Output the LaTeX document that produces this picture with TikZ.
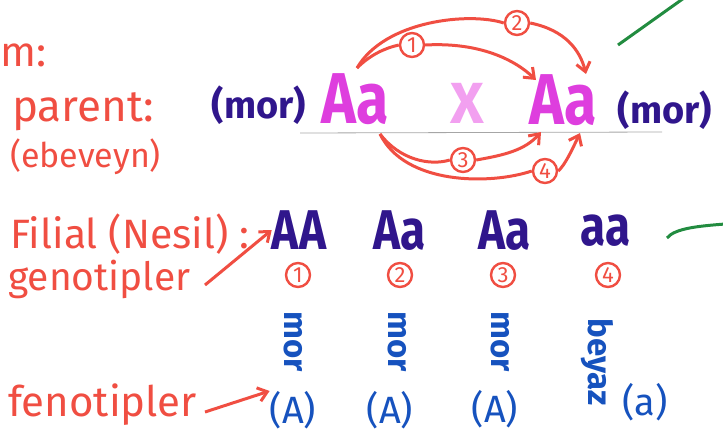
\documentclass[tikz,border=0pt]{standalone}
\usepackage{fontspec}
\setmainfont{Fira Sans}
\usetikzlibrary{arrows.meta}
\definecolor{hred}{RGB}{240,78,66}
\definecolor{dblue}{RGB}{48,22,140}
\definecolor{mblue}{RGB}{22,82,190}
\definecolor{mag}{RGB}{222,62,222}
\definecolor{lpink}{RGB}{242,160,240}
\definecolor{hgreen}{RGB}{34,140,64}
\newcommand{\narrowtxt}[1]{\scalebox{0.82}[1]{#1}}
\tikzset{
  redlab/.style={text=hred, inner sep=0pt, font=\fontsize{42}{42}\selectfont},
  parentgene/.style={text=mag, inner sep=0pt, font=\bfseries\fontsize{72}{72}\selectfont},
  morlab/.style={text=dblue, inner sep=0pt, font=\bfseries\fontsize{38}{38}\selectfont},
  filgene/.style={text=dblue, inner sep=0pt, text depth=0pt, font=\bfseries\fontsize{56}{56}\selectfont},
  vtext/.style={text=mblue, inner sep=0pt, rotate=-90, font=\bfseries\fontsize{33}{33}\selectfont},
  phen/.style={text=mblue, inner sep=0pt, font=\fontsize{38}{38}\selectfont},
  numcirc/.style={circle, draw=hred, line width=2.4pt, text=hred, inner sep=0pt, minimum size=24pt, font=\fontsize{22}{22}\selectfont},
  redarrow/.style={draw=hred, line width=3pt, -{Straight Barb[length=9pt,width=14pt]}},
  redline/.style={draw=hred, line width=3pt},
  greenline/.style={draw=hgreen, line width=3pt},
}
\begin{document}
\begin{tikzpicture}[x=1pt,y=-1pt]
\useasboundingbox (0,0) rectangle (723,437);
% left labels
\node[redlab, anchor=west] (m) at (0,55) {m:};
\node[redlab, anchor=west, font=\fontsize{44}{44}\selectfont] (parent) at (12,112) {parent:};
\node[redlab, anchor=west, font=\fontsize{34}{34}\selectfont] (ebeveyn) at (10,157) {(ebeveyn)};
\node[redlab, anchor=west, font=\fontsize{41}{41}\selectfont] (filial) at (10,234) {Filial (Nesil) :};
\node[redlab, anchor=west, font=\fontsize{39}{39}\selectfont] (geno) at (8,279) {genotipler};
\node[redlab, anchor=west] (feno) at (8,405) {fenotipler};
% parents
\node[morlab] (mor1) at (259,105) {(mor)};
\node[parentgene] (P1) at (355,99) {\narrowtxt{Aa}};
\node[text=lpink, inner sep=0pt, font=\bfseries\fontsize{58}{58}\selectfont] (X) at (467,103) {X};
\node[parentgene] (P2) at (563,100) {\narrowtxt{Aa}};
\node[morlab] (mor2) at (665,110) {(mor)};
\coordinate (la) at (300,133);
\coordinate (lb) at (662,132);
\draw[gray!70, line width=0.8pt] (la) -- (lb);
% crossing arrows
\node[numcirc] (c1) at (412,45) {1};
\node[numcirc] (c2) at (517,23) {2};
\node[numcirc] (c3) at (463,160) {3};
\node[numcirc] (c4) at (545,171) {4};
\coordinate (s1) at (357,68);
\coordinate (s2) at (380,134);
\coordinate (t1) at (536,80);
\coordinate (t2) at (586,74);
\coordinate (t3) at (541,132);
\coordinate (t4) at (580,133);
\draw[redline] (s1) .. controls (385,20) and (470,12) .. (c2.west);
\draw[redarrow] (c2.east) .. controls (565,30) and (580,50) .. (t2);
\draw[redline] (s1) .. controls (370,55) and (385,48) .. (c1.west);
\draw[redarrow] (c1.east) .. controls (480,42) and (515,60) .. (t1);
\draw[redline] (s2) .. controls (400,160) and (430,166) .. (c3.west);
\draw[redarrow] (c3.east) .. controls (505,155) and (525,150) .. (t3);
\draw[redline] (s2) .. controls (405,185) and (490,185) .. (c4.west);
\draw[redarrow] (c4.east) .. controls (565,165) and (572,150) .. (t4);
% green strokes
\coordinate (g1) at (618,45);
\coordinate (g2) at (684,-2);
\draw[greenline] (g1) -- (g2);
\coordinate (g3) at (667,238);
\coordinate (g4) at (725,224);
\draw[greenline] (g3) .. controls (675,228) and (700,226) .. (g4);
% filial genotypes
\node[filgene] (F1) at (299,230) {\narrowtxt{AA}};
\node[filgene] (F2) at (400,230) {\narrowtxt{Aa}};
\node[filgene] (F3) at (505,230) {\narrowtxt{Aa}};
\node[filgene] (F4) at (606,230) {\narrowtxt{aa}};
\node[numcirc] (n1) at (298,275) {1};
\node[numcirc] (n2) at (400,275) {2};
\node[numcirc] (n3) at (503,275) {3};
\node[numcirc] (n4) at (608,275) {4};
\node[vtext] (v1) at (293,342) {mor};
\node[vtext] (v2) at (397,342) {mor};
\node[vtext] (v3) at (500,342) {mor};
\node[vtext] (v4) at (597,362) {beyaz};
\node[phen] (ph1) at (293,410) {(A)};
\node[phen] (ph2) at (390,410) {(A)};
\node[phen] (ph3) at (495,409) {(A)};
\node[phen] (ph4) at (645,402) {(a)};
\coordinate (ga) at (205,285);
\coordinate (fa) at (205,412);
\draw[redarrow] (ga) -- (F1.west);
\draw[redarrow] (fa) -- (ph1.north west);
\end{tikzpicture}
\end{document}
